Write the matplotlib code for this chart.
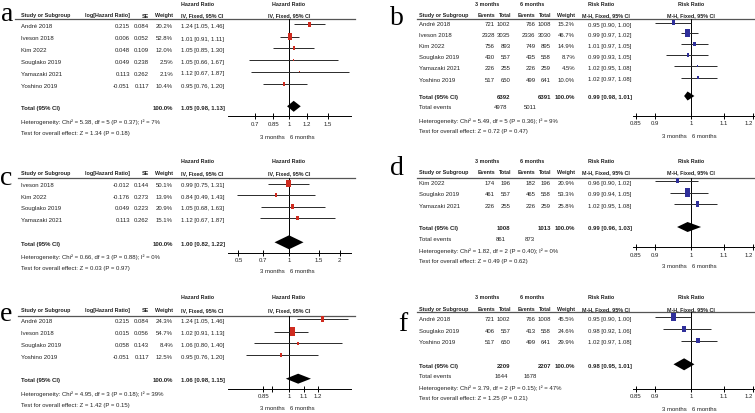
import numpy as np
import matplotlib
matplotlib.use("Agg")
import matplotlib.pyplot as plt
from matplotlib import font_manager
from matplotlib.ticker import NullLocator

W, H = 755, 414
_names = {f.name for f in font_manager.fontManager.ttflist}
if "Liberation Sans Narrow" in _names:
    SANS, FS, FSH = ["Liberation Sans Narrow", "DejaVu Sans"], 5.0, 5.0
else:
    SANS, FS, FSH = ["Liberation Sans", "DejaVu Sans"], 4.3, 3.9
SERIF = ["Liberation Serif", "DejaVu Serif"]
TXT = "#222222"
RED = "#cf2b1f"
BLUE = "#2f2f9a"

# ---------------- data ----------------
# a: hazard ratio, all studies
a_study = ["André 2018", "Iveson 2018", "Kim 2022", "Souglako 2019", "Yamazaki 2021", "Yoshino 2019"]
a_loghr = [0.215, 0.006, 0.048, 0.049, 0.113, -0.051]
a_se = [0.084, 0.052, 0.109, 0.238, 0.262, 0.117]
a_weight = [20.2, 52.8, 12.0, 2.5, 2.1, 10.4]
a_hr = [1.24, 1.01, 1.05, 1.05, 1.12, 0.95]
a_lo = [1.05, 0.91, 0.85, 0.66, 0.67, 0.76]
a_hi = [1.46, 1.11, 1.30, 1.67, 1.87, 1.20]
a_total = [1.05, 0.98, 1.13]
a_het = "Heterogeneity: Chi² = 5.38, df = 5 (P = 0.37); I² = 7%"
a_z = "Test for overall effect: Z = 1.34 (P = 0.18)"
a_ticks = [0.7, 0.85, 1, 1.2, 1.5]
a_ticklabels = ["0.7", "0.85", "1", "1.2", "1.5"]

# c: hazard ratio, subgroup
c_study = ["Iveson 2018", "Kim 2022", "Souglako 2019", "Yamazaki 2021"]
c_loghr = [-0.012, -0.176, 0.049, 0.113]
c_se = [0.144, 0.273, 0.223, 0.262]
c_weight = [50.1, 13.9, 20.9, 15.1]
c_hr = [0.99, 0.84, 1.05, 1.12]
c_lo = [0.75, 0.49, 0.68, 0.67]
c_hi = [1.31, 1.43, 1.63, 1.87]
c_total = [1.00, 0.82, 1.22]
c_het = "Heterogeneity: Chi² = 0.66, df = 3 (P = 0.88); I² = 0%"
c_z = "Test for overall effect: Z = 0.03 (P = 0.97)"
c_ticks = [0.5, 0.7, 1, 1.5, 2]
c_ticklabels = ["0.5", "0.7", "1", "1.5", "2"]

# e: hazard ratio, subgroup
e_study = ["André 2018", "Iveson 2018", "Souglako 2019", "Yoshino 2019"]
e_loghr = [0.215, 0.015, 0.058, -0.051]
e_se = [0.084, 0.056, 0.143, 0.117]
e_weight = [24.3, 54.7, 8.4, 12.5]
e_hr = [1.24, 1.02, 1.06, 0.95]
e_lo = [1.05, 0.91, 0.80, 0.76]
e_hi = [1.46, 1.13, 1.40, 1.20]
e_total = [1.06, 0.98, 1.15]
e_het = "Heterogeneity: Chi² = 4.95, df = 3 (P = 0.18); I² = 39%"
e_z = "Test for overall effect: Z = 1.42 (P = 0.15)"
e_ticks = [0.85, 0.9, 1, 1.1, 1.2]
e_ticklabels = ["0.85", "", "1", "1.1", "1.2"]

# b: risk ratio, all studies
b_study = ["André 2018", "Iveson 2018", "Kim 2022", "Souglako 2019", "Yamazaki 2021", "Yoshino 2019"]
b_ev3 = [721, 2328, 756, 430, 226, 517]
b_n3 = [1002, 3035, 893, 557, 255, 650]
b_ev6 = [766, 2336, 749, 435, 226, 499]
b_n6 = [1008, 3030, 895, 558, 259, 641]
b_weight = [15.2, 46.7, 14.9, 8.7, 4.5, 10.0]
b_rr = [0.95, 0.99, 1.01, 0.99, 1.02, 1.02]
b_lo = [0.90, 0.97, 0.97, 0.93, 0.95, 0.97]
b_hi = [1.00, 1.02, 1.05, 1.05, 1.08, 1.08]
b_total = [0.99, 0.98, 1.01]
b_het = "Heterogeneity: Chi² = 5.49, df = 5 (P = 0.36); I² = 9%"
b_z = "Test for overall effect: Z = 0.72 (P = 0.47)"

# d: risk ratio, subgroup
d_study = ["Kim 2022", "Souglako 2019", "Yamazaki 2021"]
d_ev3 = [174, 461, 226]
d_n3 = [196, 557, 255]
d_ev6 = [182, 465, 226]
d_n6 = [196, 558, 259]
d_weight = [20.9, 53.3, 25.8]
d_rr = [0.96, 0.99, 1.02]
d_lo = [0.90, 0.94, 0.95]
d_hi = [1.02, 1.05, 1.08]
d_total = [0.99, 0.96, 1.03]
d_het = "Heterogeneity: Chi² = 1.82, df = 2 (P = 0.40); I² = 0%"
d_z = "Test for overall effect: Z = 0.49 (P = 0.62)"

# f: risk ratio, subgroup
f_study = ["André 2018", "Souglako 2019", "Yoshino 2019"]
f_ev3 = [721, 406, 517]
f_n3 = [1002, 557, 650]
f_ev6 = [766, 413, 499]
f_n6 = [1008, 558, 641]
f_weight = [45.5, 24.6, 29.9]
f_rr = [0.95, 0.98, 1.02]
f_lo = [0.90, 0.92, 0.97]
f_hi = [1.00, 1.06, 1.08]
f_total = [0.98, 0.95, 1.01]
f_het = "Heterogeneity: Chi² = 3.79, df = 2 (P = 0.15); I² = 47%"
f_z = "Test for overall effect: Z = 1.25 (P = 0.21)"

rr_ticks = [0.85, 0.9, 1, 1.1, 1.2]
rr_ticklabels = ["0.85", "0.9", "1", "1.1", "1.2"]

# ---------------- layout (pixels) ----------------
lay_a = dict(label="a", lab=(1, 21), top=4, head=16, line=20, line_x=(15, 355),
             rows=[26.7, 39.0, 50.7, 62.5, 74.0, 86.5], total=108.3, het=122.3, test=134,
             axis=117.3, k=96, months=138, dh=5.5)
lay_c = dict(label="c", lab=(0, 185), top=161.7, head=173.3, line=179.3, line_x=(18, 355),
             rows=[186, 197.3, 209, 220.7], total=244.3, het=257.3, test=268.3,
             axis=254, k=73, months=272, dh=7)
lay_e = dict(label="e", lab=(0, 321), top=298, head=310.3, line=317.3, line_x=(18, 355),
             rows=[321.3, 334, 345.7, 357.3], total=380.7, het=393.7, test=405.3,
             axis=390, k=157, months=409, dh=5)
lay_b = dict(label="b", lab=(390, 25), top=4, head=15.5, line=20, line_x=(417, 755),
             rows=[25, 35.7, 46.7, 57.5, 68.7, 80], total=98, totev=108, het=121, test=132,
             axis=117, months=137, dh=4.5)
lay_d = dict(label="d", lab=(390, 175), top=162, head=173, line=179, line_x=(417, 755),
             rows=[183.3, 195, 206.7], total=229, totev=240, het=250.7, test=261.7,
             axis=248.3, months=266.7, dh=5)
lay_f = dict(label="f", lab=(398, 331), top=298, head=310, line=313, line_x=(417, 755),
             rows=[319.7, 331.3, 343], total=366.3, totev=377, het=388, test=398.7,
             axis=389.7, months=409.7, dh=6)

fig = plt.figure(figsize=(W / 100, H / 100), dpi=100)
bg = fig.add_axes([0, 0, 1, 1])
bg.set_xlim(0, W)
bg.set_ylim(H, 0)
bg.axis("off")


def T(x, y, s, ha="left", bold=False, size=None):
    bg.text(x, y, s, ha=ha, va="center", fontsize=size or FS, color=TXT,
            family=SANS, fontweight="bold" if bold else "normal")


def HD(x, y, s, ha="left"):
    # bold header text, a bit smaller so the narrow columns do not collide
    T(x, y, s, ha=ha, bold=True, size=FSH)


RECT = [(-0.3, -0.5), (0.3, -0.5), (0.3, 0.5), (-0.3, 0.5), (-0.3, -0.5)]


def forest(lay, x0, x1, xnull, k, ticks, labels, est, lo, hi, weight, total, color):
    ax = fig.add_axes([x0 / W, 1 - lay["axis"] / H, (x1 - x0) / W, (lay["axis"] - lay["line"]) / H])
    ax.set_xscale("log")
    ax.set_xlim(np.exp((x0 - xnull) / k), np.exp((x1 - xnull) / k))
    ax.set_ylim(lay["axis"], lay["line"])
    ax.patch.set_alpha(0)
    for s in ["top", "left", "right"]:
        ax.spines[s].set_visible(False)
    ax.spines["bottom"].set_linewidth(0.7)
    ax.set_yticks([])
    ax.set_xticks(ticks)
    ax.set_xticklabels(labels)
    ax.xaxis.set_minor_locator(NullLocator())
    ax.tick_params(axis="x", direction="inout", length=4, width=0.7, pad=1.2,
                   labelsize=FS, labelcolor=TXT)
    for t in ax.get_xticklabels():
        t.set_family(SANS)
    ax.axvline(1, color="black", lw=0.7)
    ys = np.array(lay["rows"]) - 1.5
    ax.hlines(ys, lo, hi, color="#2a2a2a", lw=0.7)
    s = (0.79 * np.sqrt(np.array(weight))) ** 2
    ax.scatter(est, ys, s=s, marker=RECT, color=color, linewidths=0, zorder=3)
    yt = lay["total"] - 1
    dh = lay["dh"]
    ax.fill([total[1], total[0], total[2], total[0]], [yt, yt - dh, yt, yt + dh],
            color="black", lw=0, zorder=3)
    T(xnull - 4, lay["months"], "3 months", ha="right")
    T(xnull + 1, lay["months"], "6 months")
    return ax


def hr_panel(lay, study, loghr, se, weight, hr, lo, hi, total, het, z, k, ticks, labels):
    bg.text(lay["lab"][0], lay["lab"][1], lay["label"], fontsize=20, family=SERIF,
            va="baseline", ha="left", color="black")
    bg.plot(lay["line_x"], [lay["line"]] * 2, color="#555555", lw=0.9)
    HD(181, lay["top"], "Hazard Ratio")
    HD(289, lay["top"], "Hazard Ratio", ha="center")
    HD(21, lay["head"], "Study or Subgroup")
    HD(130, lay["head"], "log[Hazard Ratio]", ha="right")
    HD(149, lay["head"], "SE", ha="right")
    HD(173, lay["head"], "Weight", ha="right")
    HD(181, lay["head"], "IV, Fixed, 95% CI")
    HD(289, lay["head"], "IV, Fixed, 95% CI", ha="center")
    for i, y in enumerate(lay["rows"]):
        T(21, y, study[i])
        T(130, y, f"{loghr[i]:.3f}", ha="right")
        T(149, y, f"{se[i]:.3f}", ha="right")
        T(173, y, f"{weight[i]:.1f}%", ha="right")
        T(181, y, f"{hr[i]:.2f} [{lo[i]:.2f}, {hi[i]:.2f}]")
    T(21, lay["total"], "Total (95% CI)", bold=True)
    T(173, lay["total"], "100.0%", ha="right", bold=True)
    T(181, lay["total"], f"{total[0]:.2f} [{total[1]:.2f}, {total[2]:.2f}]", bold=True)
    T(21, lay["het"], het)
    T(21, lay["test"], z)
    forest(lay, 228, 351, 289, k, ticks, labels, hr, lo, hi, weight, total, RED)


def rr_panel(lay, study, ev3, n3, ev6, n6, weight, rr, lo, hi, total, het, z):
    bg.text(lay["lab"][0], lay["lab"][1], lay["label"], fontsize=20, family=SERIF,
            va="baseline", ha="left", color="black")
    bg.plot(lay["line_x"], [lay["line"]] * 2, color="#555555", lw=0.9)
    HD(487.5, lay["top"], "3 months", ha="center")
    HD(532, lay["top"], "6 months", ha="center")
    HD(588, lay["top"], "Risk Ratio")
    HD(691, lay["top"], "Risk Ratio", ha="center")
    HD(419, lay["head"], "Study or Subgroup")
    HD(495.5, lay["head"], "Events", ha="right")
    HD(511, lay["head"], "Total", ha="right")
    HD(535.5, lay["head"], "Events", ha="right")
    HD(551, lay["head"], "Total", ha="right")
    HD(575, lay["head"], "Weight", ha="right")
    HD(582, lay["head"], "M-H, Fixed, 95% CI")
    HD(691, lay["head"], "M-H, Fixed, 95% CI", ha="center")
    for i, y in enumerate(lay["rows"]):
        T(419, y, study[i])
        T(495, y, str(ev3[i]), ha="right")
        T(510.5, y, str(n3[i]), ha="right")
        T(535.5, y, str(ev6[i]), ha="right")
        T(551, y, str(n6[i]), ha="right")
        T(575, y, f"{weight[i]:.1f}%", ha="right")
        T(588, y, f"{rr[i]:.2f} [{lo[i]:.2f}, {hi[i]:.2f}]")
    T(419, lay["total"], "Total (95% CI)", bold=True)
    T(510.5, lay["total"], str(sum(n3)), ha="right", bold=True)
    T(551, lay["total"], str(sum(n6)), ha="right", bold=True)
    T(575, lay["total"], "100.0%", ha="right", bold=True)
    T(588, lay["total"], f"{total[0]:.2f} [{total[1]:.2f}, {total[2]:.2f}]", bold=True)
    T(419, lay["totev"], "Total events")
    T(501, lay["totev"], str(sum(ev3)), ha="center")
    T(530, lay["totev"], str(sum(ev6)), ha="center")
    T(419, lay["het"], het)
    T(419, lay["test"], z)
    ax = forest(lay, 633, 755, 691, 341, rr_ticks, rr_ticklabels, rr, lo, hi, weight, total, BLUE)
    ax.get_xticklabels()[-1].set_horizontalalignment("right")


hr_panel(lay_a, a_study, a_loghr, a_se, a_weight, a_hr, a_lo, a_hi, a_total, a_het, a_z, 96, a_ticks, a_ticklabels)
hr_panel(lay_c, c_study, c_loghr, c_se, c_weight, c_hr, c_lo, c_hi, c_total, c_het, c_z, 73, c_ticks, c_ticklabels)
hr_panel(lay_e, e_study, e_loghr, e_se, e_weight, e_hr, e_lo, e_hi, e_total, e_het, e_z, 157, e_ticks, e_ticklabels)
rr_panel(lay_b, b_study, b_ev3, b_n3, b_ev6, b_n6, b_weight, b_rr, b_lo, b_hi, b_total, b_het, b_z)
rr_panel(lay_d, d_study, d_ev3, d_n3, d_ev6, d_n6, d_weight, d_rr, d_lo, d_hi, d_total, d_het, d_z)
rr_panel(lay_f, f_study, f_ev3, f_n3, f_ev6, f_n6, f_weight, f_rr, f_lo, f_hi, f_total, f_het, f_z)

fig.savefig("out.png", dpi=100)
